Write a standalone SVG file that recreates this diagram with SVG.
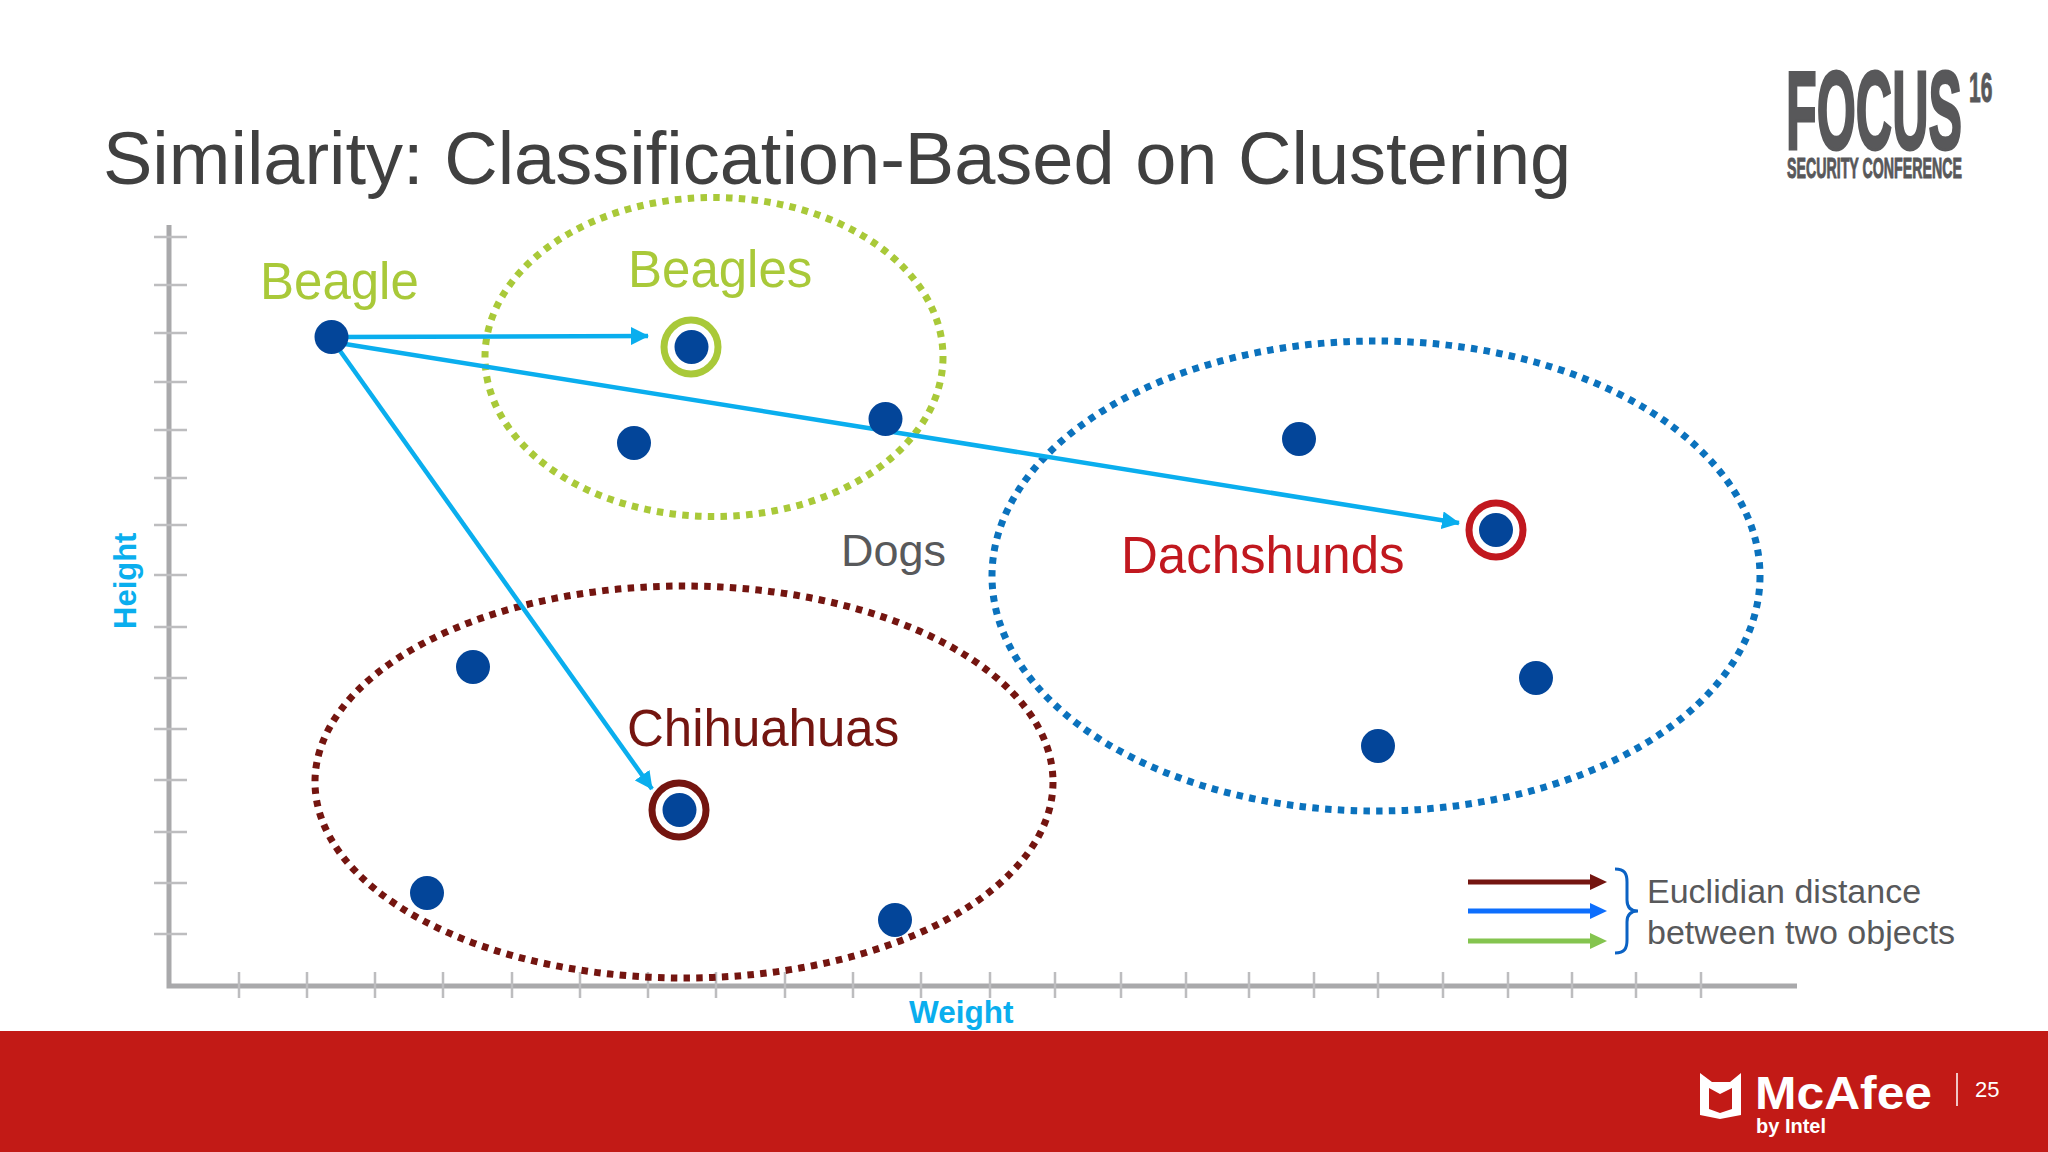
<svg xmlns="http://www.w3.org/2000/svg" width="2048" height="1152" viewBox="0 0 2048 1152">
<style>
text{font-family:"Liberation Sans",Arial,sans-serif}
.dot{fill:#034599}
.tick{stroke:#bdbdbf;stroke-width:2.5}
.axis{stroke:#a9a9ab;stroke-width:5;fill:none}
.lnk{stroke:#0aaeee;stroke-width:4.5;fill:none;marker-end:url(#ab)}
.clu{fill:none;stroke-width:7;stroke-dasharray:6.5 6.3}
.leg{stroke-width:5;fill:none}
.lbl{font-size:51px}
</style>
<defs>
<marker id="ab" markerUnits="userSpaceOnUse" markerWidth="18" markerHeight="18" refX="17" refY="9" orient="auto"><path d="M0 0L18 9L0 18z" fill="#0aaeee"/></marker>
</defs>
<rect width="2048" height="1152" fill="#fff"/>
<text x="103" y="184" font-size="74" fill="#404040" id="title">Similarity: Classification-Based on Clustering</text>
<g id="focus-logo" fill="#58585a" stroke="#58585a">
<text transform="translate(1786 149) scale(.449 1)" font-size="112" font-weight="700" stroke-width="3">FOCUS</text>
<text transform="translate(1969 102) scale(.5 1)" font-size="42" font-weight="700" stroke-width="1">16</text>
<text transform="translate(1787 178) scale(.49 1)" font-size="29" font-weight="700" stroke-width="1">SECURITY CONFERENCE</text>
</g>
<g id="axes">
<path class="axis" d="M169 225V986H1797"/>
<g id="y-ticks">
<path class="tick" d="M154 237H187M154 285H187M154 333H187M154 382H187M154 430H187M154 478H187M154 525H187M154 575H187M154 627H187M154 678H187M154 729H187M154 780H187M154 832H187M154 883H187M154 934H187"/>
</g>
<g id="x-ticks">
<path class="tick" d="M239 972V998M307 972V998M375 972V998M443 972V998M512 972V998M580 972V998M648 972V998M716 972V998M785 972V998M853 972V998M921 972V998M990 972V998M1055 972V998M1121 972V998M1186 972V998M1249 972V998M1314 972V998M1378 972V998M1443 972V998M1508 972V998M1572 972V998M1636 972V998M1701 972V998"/>
</g>
<text x="136" y="629" font-size="31" font-weight="700" fill="#0aaeee" transform="rotate(-90 136 629)">Height</text>
<text x="909" y="1023" font-size="31.5" font-weight="700" fill="#0aaeee">Weight</text>
</g>
<g id="clusters">
<g id="beagles"><ellipse class="clu" cx="714" cy="357" rx="229" ry="159.5" stroke="#a9c939"/><text x="628" y="287" class="lbl" fill="#a9c939">Beagles</text></g>
<g id="dachshunds"><ellipse class="clu" cx="1376" cy="576" rx="384" ry="235" stroke="#0b72bd"/><text x="1121" y="573" class="lbl" fill="#c1181f">Dachshunds</text></g>
<g id="chihuahuas"><ellipse class="clu" cx="684" cy="782" rx="369" ry="196" stroke="#741510"/><text x="627" y="746" class="lbl" fill="#741510">Chihuahuas</text></g>
<text x="841" y="566" font-size="45" fill="#58595b" id="dogs">Dogs</text>
</g>
<g id="connectors">
<path class="lnk" d="M340 337L648 336"/>
<path class="lnk" d="M345 344L1459 523"/>
<path class="lnk" d="M338 348L652 789"/>
</g>
<g id="nodes">
<g id="beagle"><circle class="dot" cx="331.500" cy="337" r="17"/><text x="260" y="299" class="lbl" fill="#a9c939">Beagle</text></g>
<g id="beagle-c"><circle cx="691" cy="347" r="27" fill="none" stroke="#a9c939" stroke-width="7"/><circle class="dot" cx="691.500" cy="347" r="17"/></g>
<g id="n1"><circle class="dot" cx="634" cy="443" r="17"/></g>
<g id="n2"><circle class="dot" cx="885.500" cy="419" r="17"/></g>
<g id="n3"><circle class="dot" cx="1299" cy="439" r="17"/></g>
<g id="dach-c"><circle cx="1496" cy="530" r="27" fill="none" stroke="#c1181f" stroke-width="7"/><circle class="dot" cx="1496" cy="530" r="17"/></g>
<g id="n4"><circle class="dot" cx="1536" cy="678" r="17"/></g>
<g id="n5"><circle class="dot" cx="1378" cy="746" r="17"/></g>
<g id="n6"><circle class="dot" cx="473" cy="667" r="17"/></g>
<g id="chi-c"><circle cx="679" cy="810" r="27" fill="none" stroke="#741510" stroke-width="7"/><circle class="dot" cx="679.500" cy="810" r="17"/></g>
<g id="n7"><circle class="dot" cx="427" cy="893" r="17"/></g>
<g id="n8"><circle class="dot" cx="895" cy="920" r="17"/></g>
</g>
<g id="legend">
<path class="leg" d="M1468 882H1592" stroke="#741510"/><path d="M1590 874L1607 882L1590 890z" fill="#741510"/>
<path class="leg" d="M1468 911H1592" stroke="#0d6efd"/><path d="M1590 903L1607 911L1590 919z" fill="#0d6efd"/>
<path class="leg" d="M1468 941H1592" stroke="#84c44f"/><path d="M1590 933L1607 941L1590 949z" fill="#84c44f"/>
<path d="M1615 869C1625 869 1627 874 1627 882V900C1627 907 1630 911 1638 911C1630 911 1627 915 1627 922V940C1627 948 1625 953 1615 953" fill="none" stroke="#0b62c4" stroke-width="3"/>
<text x="1647" y="903" font-size="34" fill="#58595b">Euclidian distance</text>
<text x="1647" y="944" font-size="34" fill="#58595b">between two objects</text>
</g>
<g id="footer">
<rect y="1031" width="2048" height="121" fill="#c21a16"/>
<path d="M1700 1073L1712 1082H1730L1741 1073V1115L1720 1119L1700 1115z" fill="#fff"/>
<path d="M1709 1088L1720 1094L1732 1088V1109L1720 1113L1709 1109z" fill="#c21a16"/>
<text x="1755" y="1109" font-size="46" font-weight="700" fill="#fff" textLength="177" lengthAdjust="spacingAndGlyphs">McAfee</text>
<text x="1756" y="1133" font-size="20" font-weight="700" fill="#fff" textLength="70" lengthAdjust="spacingAndGlyphs">by Intel</text>
<path d="M1957 1073V1106" stroke="#fff" stroke-width="1.5"/>
<text x="1975" y="1097" font-size="22" fill="#fff">25</text>
</g>
</svg>
